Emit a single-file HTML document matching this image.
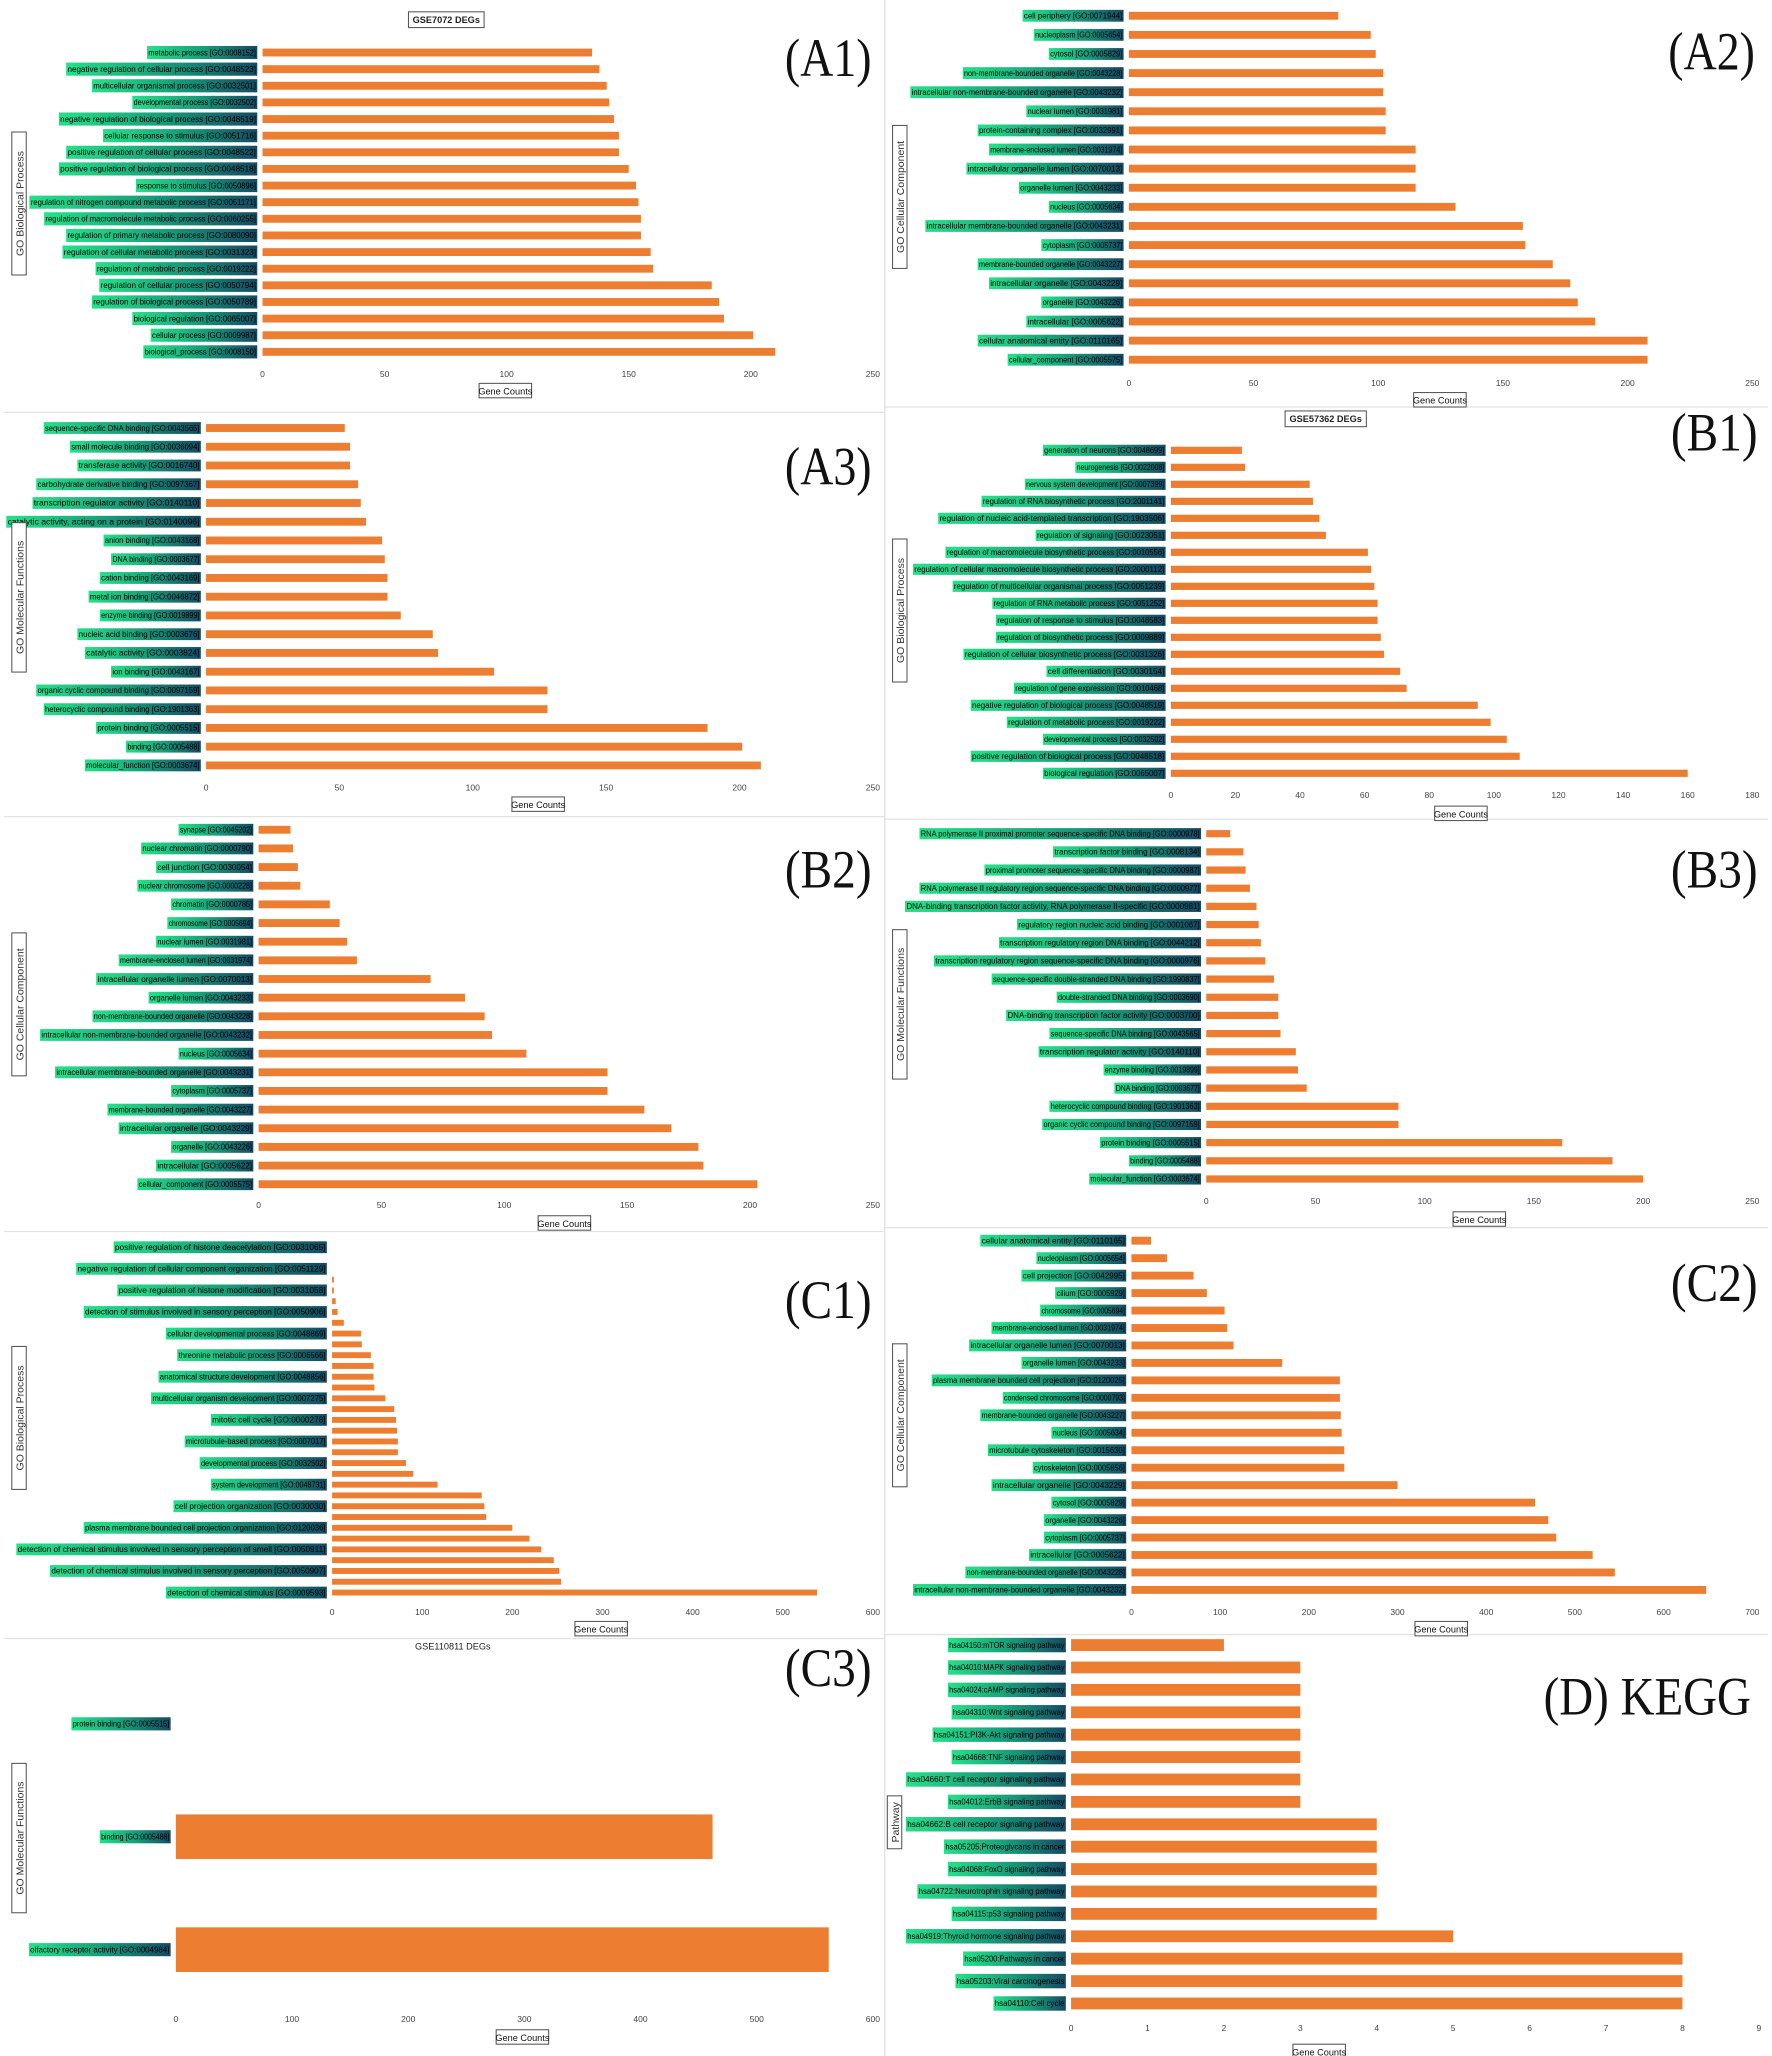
<!DOCTYPE html>
<html><head><meta charset="utf-8"><title>GO and KEGG enrichment</title>
<style>
html,body{margin:0;padding:0;background:#fff;}
svg{display:block;}
text{font-family:"Liberation Sans",sans-serif;}
.tick{font-size:6.5px;fill:#444;}
.lbl{font-size:6px;fill:#000;}
.plabel{font-family:"Liberation Serif",serif;font-size:41px;fill:#111;}
.ytitle{font-size:8px;fill:#333;}
.xtitle{font-size:7px;fill:#111;}
</style></head>
<body>
<svg id="fig" width="1772" height="2056" viewBox="0 0 1350 1566" preserveAspectRatio="none" xmlns="http://www.w3.org/2000/svg">
<defs>
<linearGradient id="lg" x1="0" x2="1" y1="0" y2="0">
<stop offset="0" stop-color="#27e08a"/><stop offset="0.5" stop-color="#17a07a"/><stop offset="1" stop-color="#154a63"/>
</linearGradient>
</defs>
<rect x="0" y="0" width="1350" height="1566" fill="#fff"/>
<g id="sep" stroke="#e2e2e2" stroke-width="1">
<line x1="674" y1="0" x2="674" y2="1566"/>
<line x1="3" y1="314" x2="674" y2="314"/><line x1="3" y1="622" x2="674" y2="622"/>
<line x1="3" y1="938" x2="674" y2="938"/><line x1="3" y1="1248" x2="674" y2="1248"/>
<line x1="674" y1="310" x2="1347" y2="310"/><line x1="674" y1="624" x2="1347" y2="624"/>
<line x1="674" y1="935" x2="1347" y2="935"/><line x1="674" y1="1245" x2="1347" y2="1245"/>
</g>
</svg>
<script>
// ---- data ----
const a1Labels=["metabolic process [GO:0008152]","negative regulation of cellular process [GO:0048523]","multicellular organismal process [GO:0032501]","developmental process [GO:0032502]","negative regulation of biological process [GO:0048519]","cellular response to stimulus [GO:0051716]","positive regulation of cellular process [GO:0048522]","positive regulation of biological process [GO:0048518]","response to stimulus [GO:0050896]","regulation of nitrogen compound metabolic process [GO:0051171]","regulation of macromolecule metabolic process [GO:0060255]","regulation of primary metabolic process [GO:0080090]","regulation of cellular metabolic process [GO:0031323]","regulation of metabolic process [GO:0019222]","regulation of cellular process [GO:0050794]","regulation of biological process [GO:0050789]","biological regulation [GO:0065007]","cellular process [GO:0009987]","biological_process [GO:0008150]"];
const a1Values=[135,138,141,142,144,146,146,150,153,154,155,155,159,160,184,187,189,201,210];
const a1Ticks=[0,50,100,150,200,250];

const a2Labels=["cell periphery [GO:0071944]","nucleoplasm [GO:0005654]","cytosol [GO:0005829]","non-membrane-bounded organelle [GO:0043228]","intracellular non-membrane-bounded organelle [GO:0043232]","nuclear lumen [GO:0031981]","protein-containing complex [GO:0032991]","membrane-enclosed lumen [GO:0031974]","intracellular organelle lumen [GO:0070013]","organelle lumen [GO:0043233]","nucleus [GO:0005634]","intracellular membrane-bounded organelle [GO:0043231]","cytoplasm [GO:0005737]","membrane-bounded organelle [GO:0043227]","intracellular organelle [GO:0043229]","organelle [GO:0043226]","intracellular [GO:0005622]","cellular anatomical entity [GO:0110165]","cellular_component [GO:0005575]"];
const a2Values=[84,97,99,102,102,103,103,115,115,115,131,158,159,170,177,180,187,208,208];
const a2Ticks=[0,50,100,150,200,250];

const a3Labels=["sequence-specific DNA binding [GO:0043565]","small molecule binding [GO:0036094]","transferase activity [GO:0016740]","carbohydrate derivative binding [GO:0097367]","transcription regulator activity [GO:0140110]","catalytic activity, acting on a protein [GO:0140096]","anion binding [GO:0043168]","DNA binding [GO:0003677]","cation binding [GO:0043169]","metal ion binding [GO:0046872]","enzyme binding [GO:0019899]","nucleic acid binding [GO:0003676]","catalytic activity [GO:0003824]","ion binding [GO:0043167]","organic cyclic compound binding [GO:0097159]","heterocyclic compound binding [GO:1901363]","protein binding [GO:0005515]","binding [GO:0005488]","molecular_function [GO:0003674]"];
const a3Values=[52,54,54,57,58,60,66,67,68,68,73,85,87,108,128,128,188,201,208];
const a3Ticks=[0,50,100,150,200,250];

const b1Labels=["generation of neurons [GO:0048699]","neurogenesis [GO:0022008]","nervous system development [GO:0007399]","regulation of RNA biosynthetic process [GO:2001141]","regulation of nucleic acid-templated transcription [GO:1903506]","regulation of signaling [GO:0023051]","regulation of macromolecule biosynthetic process [GO:0010556]","regulation of cellular macromolecule biosynthetic process [GO:2000112]","regulation of multicellular organismal process [GO:0051239]","regulation of RNA metabolic process [GO:0051252]","regulation of response to stimulus [GO:0048583]","regulation of biosynthetic process [GO:0009889]","regulation of cellular biosynthetic process [GO:0031326]","cell differentiation [GO:0030154]","regulation of gene expression [GO:0010468]","negative regulation of biological process [GO:0048519]","regulation of metabolic process [GO:0019222]","developmental process [GO:0032502]","positive regulation of biological process [GO:0048518]","biological regulation [GO:0065007]"];
const b1Values=[22,23,43,44,46,48,61,62,63,64,64,65,66,71,73,95,99,104,108,160];
const b1Ticks=[0,20,40,60,80,100,120,140,160,180];

const b2Labels=["synapse [GO:0045202]","nuclear chromatin [GO:0000790]","cell junction [GO:0030054]","nuclear chromosome [GO:0000228]","chromatin [GO:0000785]","chromosome [GO:0005694]","nuclear lumen [GO:0031981]","membrane-enclosed lumen [GO:0031974]","intracellular organelle lumen [GO:0070013]","organelle lumen [GO:0043233]","non-membrane-bounded organelle [GO:0043228]","intracellular non-membrane-bounded organelle [GO:0043232]","nucleus [GO:0005634]","intracellular membrane-bounded organelle [GO:0043231]","cytoplasm [GO:0005737]","membrane-bounded organelle [GO:0043227]","intracellular organelle [GO:0043229]","organelle [GO:0043226]","intracellular [GO:0005622]","cellular_component [GO:0005575]"];
const b2Values=[13,14,16,17,29,33,36,40,70,84,92,95,109,142,142,157,168,179,181,203];
const b2Ticks=[0,50,100,150,200,250];

const b3Labels=["RNA polymerase II proximal promoter sequence-specific DNA binding [GO:0000978]","transcription factor binding [GO:0008134]","proximal promoter sequence-specific DNA binding [GO:0000987]","RNA polymerase II regulatory region sequence-specific DNA binding [GO:0000977]","DNA-binding transcription factor activity, RNA polymerase II-specific [GO:0000981]","regulatory region nucleic acid binding [GO:0001067]","transcription regulatory region DNA binding [GO:0044212]","transcription regulatory region sequence-specific DNA binding [GO:0000976]","sequence-specific double-stranded DNA binding [GO:1990837]","double-stranded DNA binding [GO:0003690]","DNA-binding transcription factor activity [GO:0003700]","sequence-specific DNA binding [GO:0043565]","transcription regulator activity [GO:0140110]","enzyme binding [GO:0019899]","DNA binding [GO:0003677]","heterocyclic compound binding [GO:1901363]","organic cyclic compound binding [GO:0097159]","protein binding [GO:0005515]","binding [GO:0005488]","molecular_function [GO:0003674]"];
const b3Values=[11,17,18,20,23,24,25,27,31,33,33,34,41,42,46,88,88,163,186,200];
const b3Ticks=[0,50,100,150,200,250];

const c1Labels=["positive regulation of histone deacetylation [GO:0031065]","","negative regulation of cellular component organization [GO:0051129]","","positive regulation of histone modification [GO:0031058]","","detection of stimulus involved in sensory perception [GO:0050906]","","cellular developmental process [GO:0048869]","","threonine metabolic process [GO:0006566]","","anatomical structure development [GO:0048856]","","multicellular organism development [GO:0007275]","","mitotic cell cycle [GO:0000278]","","microtubule-based process [GO:0007017]","","developmental process [GO:0032502]","","system development [GO:0048731]","","cell projection organization [GO:0030030]","","plasma membrane bounded cell projection organization [GO:0120036]","","detection of chemical stimulus involved in sensory perception of smell [GO:0050911]","","detection of chemical stimulus involved in sensory perception [GO:0050907]","","detection of chemical stimulus [GO:0009593]"];
const c1Values=[0,0,0,2,2,4,6,13,32,33,43,46,46,47,59,69,71,72,73,73,82,90,117,166,169,171,200,219,232,246,252,254,538];
const c1Ticks=[0,100,200,300,400,500,600];

const c2Labels=["cellular anatomical entity [GO:0110165]","nucleoplasm [GO:0005654]","cell projection [GO:0042995]","cilium [GO:0005929]","chromosome [GO:0005694]","membrane-enclosed lumen [GO:0031974]","intracellular organelle lumen [GO:0070013]","organelle lumen [GO:0043233]","plasma membrane bounded cell projection [GO:0120025]","condensed chromosome [GO:0000793]","membrane-bounded organelle [GO:0043227]","nucleus [GO:0005634]","microtubule cytoskeleton [GO:0015630]","cytoskeleton [GO:0005856]","intracellular organelle [GO:0043229]","cytosol [GO:0005829]","organelle [GO:0043226]","cytoplasm [GO:0005737]","intracellular [GO:0005622]","non-membrane-bounded organelle [GO:0043228]","intracellular non-membrane-bounded organelle [GO:0043232]"];
const c2Values=[22,40,70,85,105,108,115,170,235,235,236,237,240,240,300,455,470,479,520,545,648];
const c2Ticks=[0,100,200,300,400,500,600,700];

const c3Labels=["protein binding [GO:0005515]","binding [GO:0005488]","olfactory receptor activity [GO:0004984]"];
const c3Values=[0,462,562];
const c3Ticks=[0,100,200,300,400,500,600];

const dLabels=["hsa04150:mTOR signaling pathway","hsa04010:MAPK signaling pathway","hsa04024:cAMP signaling pathway","hsa04310:Wnt signaling pathway","hsa04151:PI3K-Akt signaling pathway","hsa04668:TNF signaling pathway","hsa04660:T cell receptor signaling pathway","hsa04012:ErbB signaling pathway","hsa04662:B cell receptor signaling pathway","hsa05205:Proteoglycans in cancer","hsa04068:FoxO signaling pathway","hsa04722:Neurotrophin signaling pathway","hsa04115:p53 signaling pathway","hsa04919:Thyroid hormone signaling pathway","hsa05200:Pathways in cancer","hsa05203:Viral carcinogenesis","hsa04110:Cell cycle"];
const dValues=[2,3,3,3,3,3,3,3,4,4,4,4,4,5,8,8,8];
const dTicks=[0,1,2,3,4,5,6,7,8,9];

// ---- drawing ----
const NS="http://www.w3.org/2000/svg";
const svg=document.getElementById('fig');
function mk(tag,attrs,parent){const e=document.createElementNS(NS,tag);for(const k in attrs)e.setAttribute(k,attrs[k]);(parent||svg).appendChild(e);return e;}

function drawPanel(id,labels,values,ticks,lay){
  const g=mk('g',{});
  
  
  const maxT=ticks[ticks.length-1];
  const xs=v=>lay.x0+(v/maxT)*(lay.x1-lay.x0);
  const n=values.length;
  const ys=i=>n===1?lay.yTop:lay.yTop+i*(lay.yBot-lay.yTop)/(n-1);
  for(let i=0;i<n;i++){
    const y=ys(i);
    if(labels[i]){
      const w=labels[i].length*lay.cw;
      const bx=lay.x0-4-w;
      const lr=mk('rect',{x:bx,y:y-lay.lh/2,width:w,height:lay.lh,fill:'url(#lg)'},g);
      
      
      const t=mk('text',{x:bx+1,y:y+2.1,'class':'lbl',textLength:w-2,lengthAdjust:'spacingAndGlyphs'},g);
      t.textContent=labels[i];
      
      
    }
    if(values[i]>0){
      const b=mk('rect',{x:xs(0),y:y-lay.bh/2,width:xs(values[i])-xs(0),height:lay.bh,fill:'#ED7D31'},g);
      
      
    }
  }
  for(const tv of ticks){
    const t=mk('text',{x:xs(tv),y:lay.tickY,'class':'tick','text-anchor':'middle'},g);
    t.textContent=tv;
    
    
  }
  if(lay.xt){
    const xg=mk('g',{},g);
    
    
    mk('rect',{x:lay.xt[0]-20,y:lay.xt[1]-6,width:40,height:11,fill:'#fff',stroke:'#555','stroke-width':0.8},xg);
    const t=mk('text',{x:lay.xt[0],y:lay.xt[1]+2.5,'class':'xtitle','text-anchor':'middle'},xg);
    t.textContent='Gene Counts';
  }
  const yg=mk('g',{transform:'translate('+lay.yt[0]+','+lay.yt[1]+') rotate(-90)'},g);
  
  
  const yw=lay.ytext.length*4.9+6;
  mk('rect',{x:-yw/2,y:-6,width:yw,height:11,fill:'#fff',stroke:'#555','stroke-width':0.8},yg);
  const yt=mk('text',{x:0,y:2.8,'class':'ytitle','text-anchor':'middle'},yg);
  yt.textContent=lay.ytext;
  const pl=mk('text',{x:lay.pl[0],y:lay.pl[1],'class':'plabel','text-anchor':'end',textLength:lay.plw,lengthAdjust:'spacingAndGlyphs'},g);
  pl.textContent=lay.plabel;
  
  
  if(lay.title){
    const tg=mk('g',{},g);
    
    
    const tw=lay.title[2].length*4.3+6;
    if(lay.title[3]) mk('rect',{x:lay.title[0]-tw/2,y:lay.title[1]-6,width:tw,height:12,fill:'#fff',stroke:'#555','stroke-width':0.8},tg);
    const t=mk('text',{x:lay.title[0],y:lay.title[1]+2.5,'text-anchor':'middle','font-size':'7',
      'font-weight':lay.title[3]?'bold':'normal',fill:'#222'},tg);
    t.textContent=lay.title[2];
  }
}

drawPanel('a1',a1Labels,a1Values,a1Ticks,{x0:200,x1:665,yTop:40,yBot:268,bh:6,lh:10,cw:2.8,tickY:287,xt:[385,298],yt:[15,155],ytext:'GO Biological Process',pl:[664,58],plw:66,plabel:'(A1)',title:[340,15,'GSE7072 DEGs',true]});
drawPanel('a2',a2Labels,a2Values,a2Ticks,{x0:860,x1:1335,yTop:12,yBot:274,bh:6,lh:9,cw:2.85,tickY:294,xt:[1097,305],yt:[686,150],ytext:'GO Cellular Component',pl:[1337,53],plw:66,plabel:'(A2)'});
drawPanel('a3',a3Labels,a3Values,a3Ticks,{x0:157,x1:665,yTop:326,yBot:583,bh:6,lh:9,cw:2.85,tickY:602,xt:[410,613],yt:[15,455],ytext:'GO Molecular Functions',pl:[664,369],plw:66,plabel:'(A3)'});
drawPanel('b1',b1Labels,b1Values,b1Ticks,{x0:892,x1:1335,yTop:343,yBot:589,bh:5.5,lh:8.5,cw:2.75,tickY:608,xt:[1113,620],yt:[686,465],ytext:'GO Biological Process',pl:[1339,343],plw:66,plabel:'(B1)',title:[1010,319,'GSE57362 DEGs',true]});
drawPanel('b2',b2Labels,b2Values,b2Ticks,{x0:197,x1:665,yTop:632,yBot:902,bh:6,lh:9,cw:2.85,tickY:920,xt:[430,932],yt:[15,765],ytext:'GO Cellular Component',pl:[664,676],plw:66,plabel:'(B2)'});
drawPanel('b3',b3Labels,b3Values,b3Ticks,{x0:919,x1:1335,yTop:635,yBot:898,bh:5.5,lh:8.5,cw:2.75,tickY:917,xt:[1127,929],yt:[686,765],ytext:'GO Molecular Functions',pl:[1339,676],plw:66,plabel:'(B3)'});
drawPanel('c1',c1Labels,c1Values,c1Ticks,{x0:253,x1:665,yTop:950,yBot:1213,bh:4.5,lh:9,cw:2.85,tickY:1230,xt:[458,1241],yt:[15,1080],ytext:'GO Biological Process',pl:[664,1004],plw:66,plabel:'(C1)'});
drawPanel('c2',c2Labels,c2Values,c2Ticks,{x0:862,x1:1335,yTop:945,yBot:1211,bh:6,lh:9,cw:2.85,tickY:1230,xt:[1098,1241],yt:[686,1078],ytext:'GO Cellular Component',pl:[1339,991],plw:66,plabel:'(C2)'});
drawPanel('c3',c3Labels,c3Values,c3Ticks,{x0:134,x1:665,yTop:1313,yBot:1485,bh:34,lh:10,cw:2.7,tickY:1540,xt:[398,1552],yt:[15,1400],ytext:'GO Molecular Functions',pl:[664,1284],plw:66,plabel:'(C3)',title:[345,1254,'GSE110811 DEGs',false]});
drawPanel('d',dLabels,dValues,dTicks,{x0:816,x1:1340,yTop:1253,yBot:1526,bh:9,lh:11,cw:2.9,tickY:1547,xt:[1005,1563],yt:[682,1388],ytext:'Pathway',pl:[1334,1306],plw:158,plabel:'(D) KEGG'});
</script>
</body></html>
